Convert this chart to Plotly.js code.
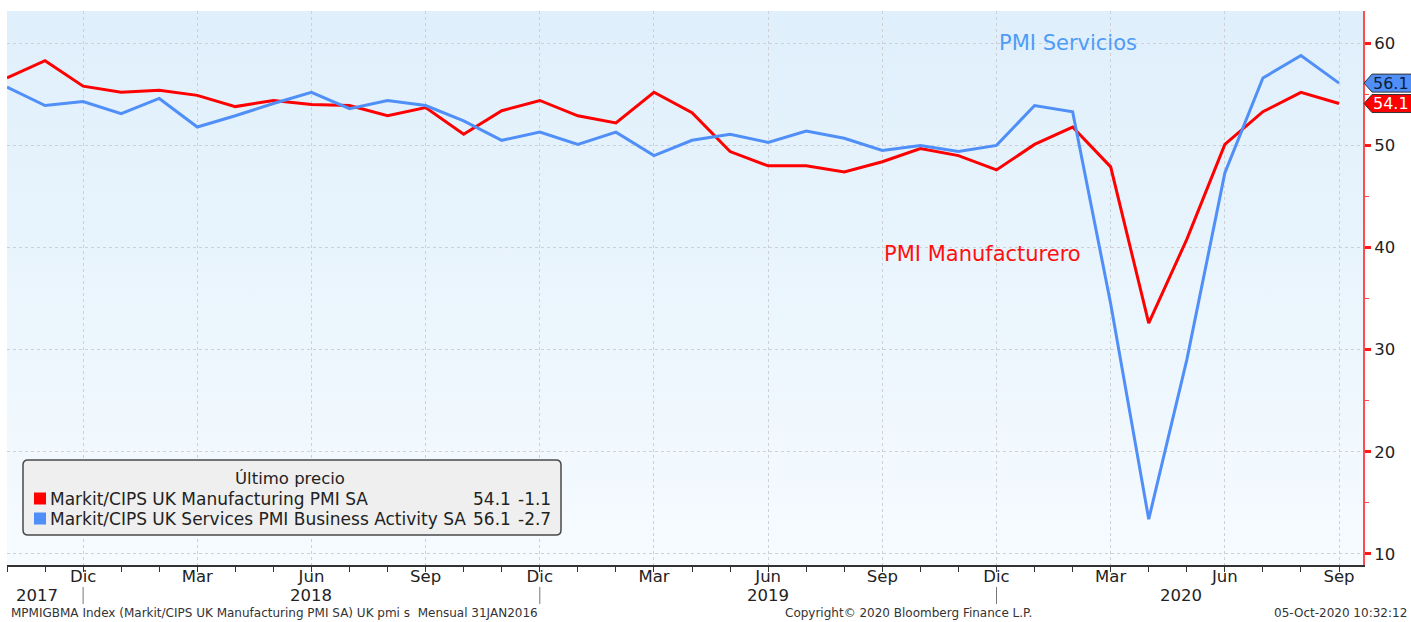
<!DOCTYPE html>
<html>
<head>
<meta charset="utf-8">
<script src="https://cdn.plot.ly/plotly-3.0.1.min.js"></script>
<style>
html,body{margin:0;padding:0;background:#ffffff;}
#wrap{position:relative;width:1411px;height:622px;}
#bg{position:absolute;left:7px;top:11px;width:1356px;height:554px;background:linear-gradient(to bottom,#dfeffb 0%,#eaf5fd 50%,#f6fbff 100%);z-index:0;}
#chart{position:absolute;left:0;top:0;width:1411px;height:622px;z-index:1;}
</style>
</head>
<body>
<div id="wrap"><div id="bg"></div><div id="chart"></div></div>
<script>
// ---- data ----
const months = ['2017-10','2017-11','2017-12','2018-01','2018-02','2018-03','2018-04','2018-05','2018-06','2018-07','2018-08','2018-09',
  '2018-10','2018-11','2018-12','2019-01','2019-02','2019-03','2019-04','2019-05','2019-06','2019-07','2019-08','2019-09',
  '2019-10','2019-11','2019-12','2020-01','2020-02','2020-03','2020-04','2020-05','2020-06','2020-07','2020-08','2020-09'];
const manufacturing = [56.6,58.3,55.8,55.2,55.4,54.9,53.8,54.4,54.0,53.9,52.9,53.7,
  51.1,53.4,54.4,52.9,52.2,55.2,53.2,49.4,48.0,48.0,47.4,48.4,
  49.7,49.0,47.6,50.1,51.8,47.9,32.6,40.8,50.1,53.3,55.2,54.1];
const services = [55.7,53.9,54.3,53.1,54.6,51.8,52.9,54.1,55.2,53.6,54.4,53.9,
  52.4,50.5,51.3,50.1,51.3,49.0,50.5,51.1,50.3,51.4,50.7,49.5,
  50.0,49.4,50.0,53.9,53.3,34.5,13.4,29.0,47.3,56.6,58.8,56.1];
const seriesNames = ['Markit/CIPS UK Manufacturing PMI SA','Markit/CIPS UK Services PMI Business Activity SA'];
const seriesColors = ['#ff0000','#4f8ff7'];
const monthNames = {'12':'Dic','03':'Mar','06':'Jun','09':'Sep'};
const yearLabels = ['2017','2018','2019','2020'];
const yearLabelPos = [0.8, 8, 20, 30.85];
const yTicks = [10,20,30,40,50,60];

// ---- derived ----
const xIdx = months.map((m,i)=>i);
const tickvals = [], ticktext = [], separators = [];
months.forEach((m,i)=>{const mm=m.slice(5); if(monthNames[mm]){tickvals.push(i);ticktext.push(monthNames[mm]);} if(mm==='12') separators.push(i);});

const FONT = 'DejaVu Sans';
const traces = [
  {x:xIdx,y:manufacturing,type:'scatter',mode:'lines',name:seriesNames[0],line:{color:seriesColors[0],width:3},hoverinfo:'x+y'},
  {x:xIdx,y:services,type:'scatter',mode:'lines',name:seriesNames[1],line:{color:seriesColors[1],width:3},hoverinfo:'x+y'}
];

const plotW = 1356, plotH = 554;
const px2x = p => (p-7)/plotW;          // paper x from pixel
const px2y = p => (565-p)/plotH;        // paper y from pixel

const shapes = [], annotations = [];

// year separators
separators.forEach(i=>shapes.push({type:'line',xref:'x',yref:'paper',x0:i,x1:i,y0:px2y(587),y1:px2y(604),line:{color:'#777',width:1}}));
// year labels
yearLabels.forEach((t,k)=>annotations.push({xref:'x',yref:'paper',x:yearLabelPos[k],y:px2y(595),text:t,showarrow:false,xanchor:'center',yanchor:'middle',font:{family:FONT,size:16.5,color:'#222'}}));

// last value tags
const pxPerUnit = 10.214;
const halfH = 9/pxPerUnit;
const tagDefs = [
  {vals:services, fill:'#4f8ff7', txt:'#0c1e3a'},
  {vals:manufacturing, fill:'#ff0000', txt:'#ffffff'}
];
tagDefs.forEach(t=>{
  const v = t.vals[t.vals.length-1];
  const xa = px2x(1364), xb = px2x(1372), xc = px2x(1412);
  shapes.push({type:'path',xref:'paper',yref:'y',
    path:`M ${xa},${v} L ${xb},${v+halfH} L ${xc},${v+halfH} L ${xc},${v-halfH} L ${xb},${v-halfH} Z`,
    fillcolor:t.fill,line:{color:'#333',width:1}});
  annotations.push({xref:'paper',yref:'y',x:px2x(1391),y:v,text:v.toFixed(1),showarrow:false,xanchor:'center',yanchor:'middle',font:{family:FONT,size:16,color:t.txt}});
});

// in-chart labels
annotations.push({xref:'x',yref:'y',x:26.0,y:60.0,text:'PMI Servicios',showarrow:false,xanchor:'left',yanchor:'middle',font:{family:FONT,size:21,color:'#4f9cf7'}});
annotations.push({xref:'x',yref:'y',x:23.0,y:39.4,text:'PMI Manufacturero',showarrow:false,xanchor:'left',yanchor:'middle',font:{family:FONT,size:21,color:'#ff1010'}});

// legend box (rounded)
const bx0=px2x(23), bx1=px2x(561), by0=px2y(535), by1=px2y(460);
const rx=5/plotW, ry=5/plotH;
shapes.push({type:'path',xref:'paper',yref:'paper',
  path:`M ${bx0+rx},${by1} L ${bx1-rx},${by1} Q ${bx1},${by1} ${bx1},${by1-ry} L ${bx1},${by0+ry} Q ${bx1},${by0} ${bx1-rx},${by0} L ${bx0+rx},${by0} Q ${bx0},${by0} ${bx0},${by0+ry} L ${bx0},${by1-ry} Q ${bx0},${by1} ${bx0+rx},${by1} Z`,
  fillcolor:'#efefef',line:{color:'#4a4a4a',width:1.5}});
annotations.push({xref:'paper',yref:'paper',x:px2x(290),y:px2y(478),text:'Último precio',showarrow:false,xanchor:'center',yanchor:'middle',font:{family:FONT,size:16.5,color:'#222'}});
const rowY = [498.5, 518.5];
const allSeries = [manufacturing, services];
allSeries.forEach((s,k)=>{
  const last = s[s.length-1], prev = s[s.length-2];
  const chg = (last-prev);
  const y = rowY[k];
  shapes.push({type:'rect',xref:'paper',yref:'paper',x0:px2x(34),x1:px2x(46),y0:px2y(y+6),y1:px2y(y-6),fillcolor:seriesColors[k],line:{width:0}});
  annotations.push({xref:'paper',yref:'paper',x:px2x(48),y:px2y(y),text:seriesNames[k],showarrow:false,xanchor:'left',yanchor:'middle',font:{family:FONT,size:17,color:'#222'}});
  annotations.push({xref:'paper',yref:'paper',x:px2x(513),y:px2y(y),text:last.toFixed(1),showarrow:false,xanchor:'right',yanchor:'middle',font:{family:FONT,size:17,color:'#222'}});
  annotations.push({xref:'paper',yref:'paper',x:px2x(553),y:px2y(y),text:(chg<0?'-':'+')+Math.abs(chg).toFixed(1),showarrow:false,xanchor:'right',yanchor:'middle',font:{family:FONT,size:17,color:'#222'}});
});

// footer
annotations.push({xref:'paper',yref:'paper',x:px2x(9),y:px2y(613),text:'MPMIGBMA Index (Markit/CIPS UK Manufacturing PMI SA) UK pmi s  Mensual 31JAN2016',showarrow:false,xanchor:'left',yanchor:'middle',font:{family:FONT,size:12,color:'#333'}});
annotations.push({xref:'paper',yref:'paper',x:px2x(908),y:px2y(613),text:'Copyright© 2020 Bloomberg Finance L.P.',showarrow:false,xanchor:'center',yanchor:'middle',font:{family:FONT,size:12,color:'#333'}});
annotations.push({xref:'paper',yref:'paper',x:px2x(1409),y:px2y(613),text:'05-Oct-2020 10:32:12',showarrow:false,xanchor:'right',yanchor:'middle',font:{family:FONT,size:12,color:'#333'}});

const layout = {
  width:1411, height:622,
  margin:{l:7,r:48,t:11,b:57,pad:0},
  paper_bgcolor:'rgba(0,0,0,0)', plot_bgcolor:'rgba(0,0,0,0)',
  showlegend:false,
  font:{family:FONT,size:16.5,color:'#222'},
  xaxis:{type:'linear',range:[0,35.63],tickmode:'array',tickvals:tickvals,ticktext:ticktext,
    showgrid:true,gridcolor:'#cdd1d5',griddash:'dot',gridwidth:1,zeroline:false,
    showline:true,linecolor:'#333',linewidth:1.5,ticks:'outside',ticklen:5,tickcolor:'#333',tickwidth:1,
    ticklabelstandoff:-9,
    minor:{tickmode:'linear',tick0:0,dtick:1,ticks:'outside',ticklen:5,tickcolor:'#333',tickwidth:1,showgrid:false},
    tickfont:{family:FONT,size:16.5,color:'#222'},fixedrange:true},
  yaxis:{side:'right',range:[8.92,63.16],tickmode:'array',tickvals:yTicks,
    showgrid:true,gridcolor:'#cdd1d5',griddash:'dot',gridwidth:1,zeroline:false,
    showline:true,linecolor:'#ff4d4d',linewidth:2,ticks:'outside',ticklen:6,tickcolor:'#ff1a1a',tickwidth:3,
    minor:{tickmode:'linear',tick0:5,dtick:10,ticks:'outside',ticklen:4,tickcolor:'#ff4d4d',tickwidth:1,showgrid:false},
    tickfont:{family:FONT,size:16.5,color:'#222'},fixedrange:true},
  shapes:shapes, annotations:annotations
};
Plotly.newPlot('chart',traces,layout,{displayModeBar:false,staticPlot:true});
</script>
</body>
</html>
